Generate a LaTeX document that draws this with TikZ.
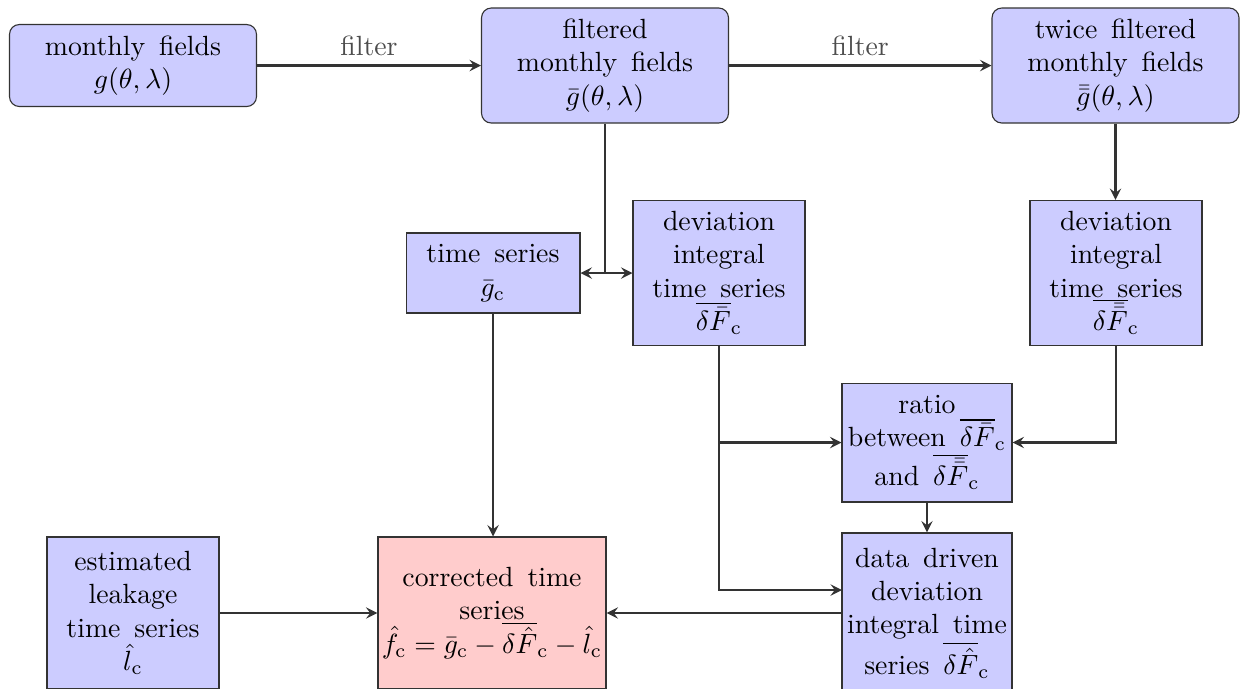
\documentclass[tikz,border=0pt]{standalone}
\usepackage{amsmath}
\usetikzlibrary{arrows,positioning}
\begin{document}
\begin{tikzpicture}
  [>=stealth, x=0.36pt, y=-0.36pt,
  every node/.style={align=center, inner sep=1pt},
  block/.style={draw=black!80, fill=blue!20, line width=0.4pt},
  rblock/.style={block, rounded corners=3.5pt},
  pblock/.style={block, fill=red!20},
  link/.style={draw=black!80, line width=0.8pt}
  ]
  \useasboundingbox (0,0) rectangle (1241,688);
  % fields
  \node[rblock, minimum width=88.9pt, minimum height=29.5pt] (mon) at (133,65.5) {monthly\, fields\\ $g(\theta,\lambda)$};
  \node[rblock, minimum width=88.9pt, minimum height=41.4pt] (filt) at (605,65.5) {filtered\\ monthly\, fields\\ $\bar{g}(\theta,\lambda)$};
  \node[rblock, minimum width=88.9pt, minimum height=41.4pt] (twice) at (1115.5,65.5) {twice\, filtered\\ monthly\, fields\\ $\bar{\bar{g}}(\theta,\lambda)$};
  % time series
  \node[block, minimum width=62.6pt, minimum height=28.8pt] (ts) at (493,273) {time\, series\\ $\bar{g}_\mathrm{c}$};
  \node[block, minimum width=61.9pt, minimum height=52.2pt] (dev) at (719,273) {deviation\\ integral\\ time\, series\\ $\overline{\delta\bar{F}}_\mathrm{c}$};
  \node[block, minimum width=61.9pt, minimum height=52.2pt] (devtw) at (1116,273) {deviation\\ integral\\ time\, series\\ $\overline{\delta\bar{\bar{F}}}_\mathrm{c}$};
  \node[block, minimum width=61.2pt, minimum height=42.8pt] (ratio) at (927,442.5) {ratio\\ between\, $\overline{\delta\bar{F}}_\mathrm{c}$\\ and\, $\overline{\delta\bar{\bar{F}}}_\mathrm{c}$};
  \node[block, minimum width=61.2pt, minimum height=57.6pt] (dd) at (927,613) {data\, driven\\ deviation\\ integral\, time\\ series\, $\overline{\delta\hat{F}}_\mathrm{c}$};
  \node[block, minimum width=61.9pt, minimum height=54.7pt] (leak) at (133,613) {estimated\\ leakage\\ time\, series\\ $\hat{l}_\mathrm{c}$};
  \node[pblock, minimum width=82.1pt, minimum height=54.7pt] (corr) at (492,613) {corrected\, time\\ series\\ $\hat{f}_\mathrm{c}=\bar{g}_\mathrm{c}-\overline{\delta\hat{F}}_\mathrm{c}-\hat{l}_\mathrm{c}$};
  % connectors
  \draw[link,->] (mon) -- node[above=2pt, text=black!70] {filter} (filt);
  \draw[link,->] (filt) -- node[above=2pt, text=black!70] {filter} (twice);
  \coordinate (split) at (filt.south |- ts);
  \draw[link] (filt) -- (split);
  \draw[link,->] (split) -- (ts);
  \draw[link,->] (split) -- (dev);
  \draw[link,->] (twice) -- (twice |- devtw.north);
  \draw[link,->] (ts) -- (ts |- corr.north);
  \coordinate (ddin) at (842,590);
  \draw[link,->] (dev.south) |- (ratio.west);
  \draw[link,->] (dev.south) |- (ddin);
  \draw[link,->] (devtw.south) |- (ratio.east);
  \draw[link,->] (ratio) -- (dd);
  \draw[link,->] (dd) -- (corr);
  \draw[link,->] (leak) -- (corr);
\end{tikzpicture}
\end{document}
